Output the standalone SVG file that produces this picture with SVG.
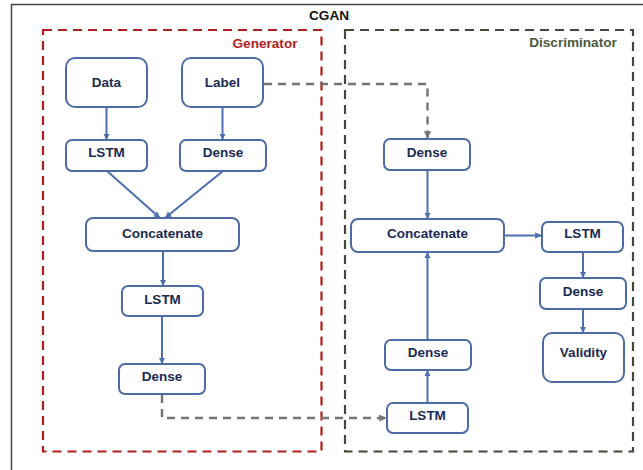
<svg xmlns="http://www.w3.org/2000/svg" width="643" height="470" viewBox="0 0 643 470">
<defs>
<style>
.frame{fill:none;stroke:#454545;stroke-width:1.5}
.gen{fill:none;stroke:#b01e1e;stroke-width:2.2;stroke-dasharray:9 6}
.dis{fill:none;stroke:#414a39;stroke-width:2.2;stroke-dasharray:9 6}
.node rect{fill:#fff;stroke:#4d6ca6;stroke-width:2}
.node text{font-family:"Liberation Sans",Arial,sans-serif;font-weight:bold;font-size:13.5px;fill:#1b2a52;text-anchor:middle}
.lbl{font-family:"Liberation Sans",Arial,sans-serif;font-weight:bold;font-size:13.6px}
.blue{fill:none;stroke:#4d6fb0;stroke-width:2;marker-end:url(#ab)}
.gray{fill:none;stroke:#747474;stroke-width:2.4;stroke-dasharray:8 6;marker-end:url(#ag)}
</style>
<marker id="ab" viewBox="0 0 10 10" refX="10" refY="5" markerWidth="3.2" markerHeight="3.2" orient="auto" markerUnits="strokeWidth"><path d="M0,0 L10,5 L0,10 z" fill="#4d6fb0"/></marker>
<marker id="ag" viewBox="0 0 10 10" refX="10" refY="5" markerWidth="3" markerHeight="3" orient="auto" markerUnits="strokeWidth"><path d="M0,0 L10,5 L0,10 z" fill="#747474"/></marker>
</defs>
<rect width="643" height="470" fill="#fff"/>
<path class="frame" d="M11.5,470 V4.5 H643"/>
<text class="lbl" x="329" y="20" text-anchor="middle" fill="#111" font-size="13.3">CGAN</text>
<rect class="gen" x="43" y="30" width="278.5" height="421.5"/>
<text class="lbl" x="265" y="47.5" text-anchor="middle" fill="#b01e1e">Generator</text>
<rect class="dis" x="345" y="30" width="288" height="421.5"/>
<text class="lbl" x="573" y="46.5" text-anchor="middle" fill="#4b5a40">Discriminator</text>
<g id="connectors">
<path class="blue" d="M106.5,107 V140"/>
<path class="blue" d="M222.5,107 V140"/>
<path class="blue" d="M107,171 L160,218"/>
<path class="blue" d="M223,171 L165,218"/>
<path class="blue" d="M163,251 V286"/>
<path class="blue" d="M162,316 V364"/>
<path class="blue" d="M427.5,170 V219"/>
<path class="blue" d="M427.5,403 V370"/>
<path class="blue" d="M427.5,340 V252"/>
<path class="blue" d="M504,235.5 H541.5"/>
<path class="blue" d="M583,252 V278"/>
<path class="blue" d="M583,309 V333"/>
<path class="gray" d="M264,84 H427.5 V138.5"/>
<path class="gray" d="M162,395 V418 H386.5"/>
</g>
<g id="g-data" class="node"><rect x="66" y="58" width="81" height="49" rx="9"/><text x="106.5" y="86.5">Data</text></g>
<g id="g-label" class="node"><rect x="182" y="58" width="81" height="49" rx="9"/><text x="222.5" y="86.5">Label</text></g>
<g id="g-lstm1" class="node"><rect x="66" y="140" width="81" height="31" rx="6"/><text x="106.5" y="157">LSTM</text></g>
<g id="g-dense1" class="node"><rect x="180" y="140" width="86" height="31" rx="6"/><text x="223" y="157">Dense</text></g>
<g id="g-concat" class="node"><rect x="86" y="218" width="153" height="33" rx="7"/><text x="162.5" y="238">Concatenate</text></g>
<g id="g-lstm2" class="node"><rect x="122" y="286" width="81" height="30" rx="6"/><text x="162.5" y="304">LSTM</text></g>
<g id="g-dense2" class="node"><rect x="119" y="364" width="86" height="30" rx="6"/><text x="162" y="381">Dense</text></g>
<g id="d-dense-top" class="node"><rect x="384" y="139" width="86" height="31" rx="6"/><text x="427" y="157">Dense</text></g>
<g id="d-concat" class="node"><rect x="351" y="219" width="153" height="33" rx="7"/><text x="427.5" y="238">Concatenate</text></g>
<g id="d-lstm-right" class="node"><rect x="542" y="222" width="81" height="30" rx="6"/><text x="582.5" y="238">LSTM</text></g>
<g id="d-dense-right" class="node"><rect x="540" y="278" width="86" height="31" rx="6"/><text x="583" y="296">Dense</text></g>
<g id="d-validity" class="node"><rect x="543" y="333" width="81" height="49" rx="9"/><text x="583.5" y="357">Validity</text></g>
<g id="d-dense-bottom" class="node"><rect x="385" y="340" width="86" height="30" rx="6"/><text x="428" y="357">Dense</text></g>
<g id="d-lstm-bottom" class="node"><rect x="387" y="403" width="81" height="30" rx="6"/><text x="427.5" y="420">LSTM</text></g>
</svg>
